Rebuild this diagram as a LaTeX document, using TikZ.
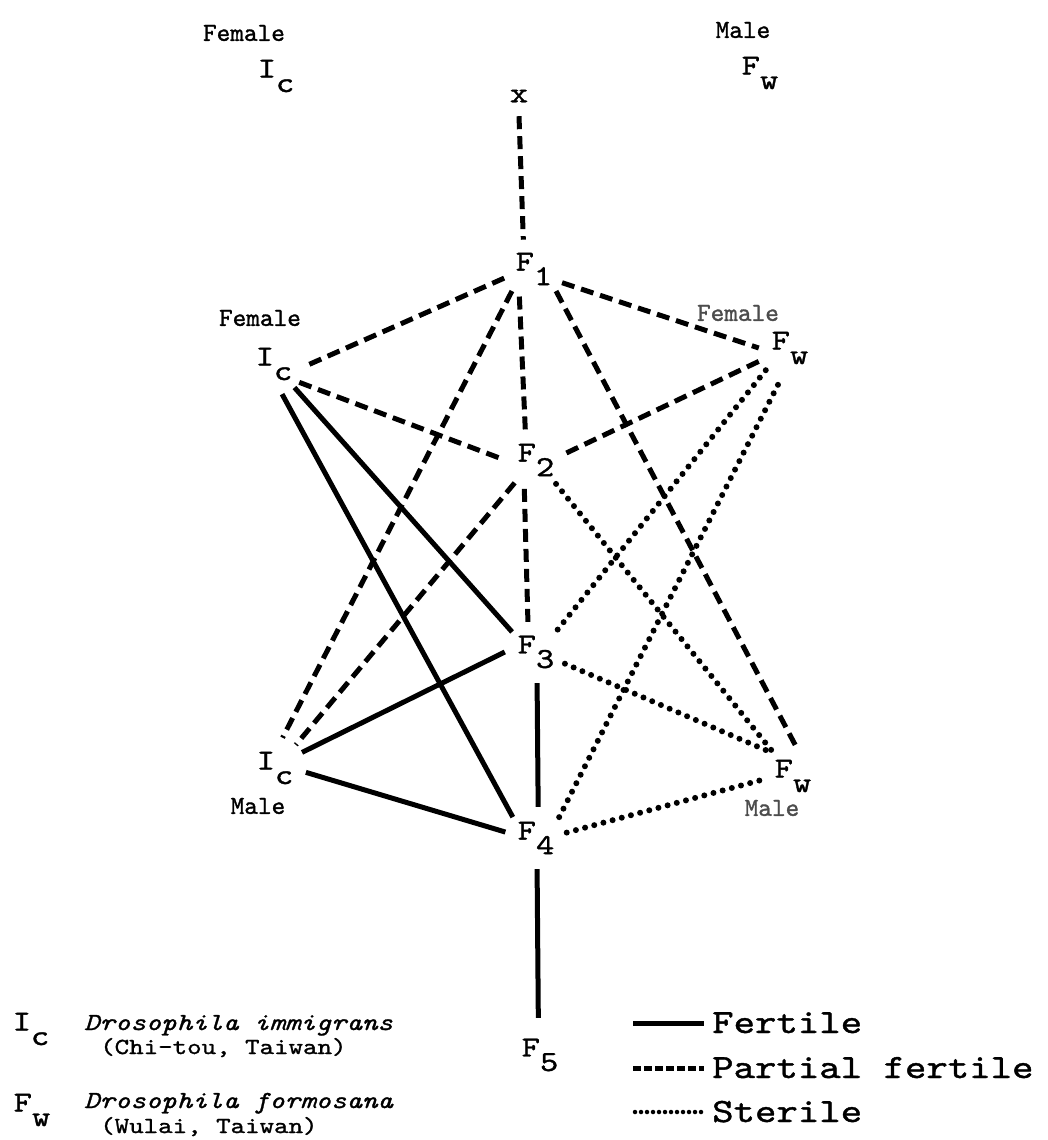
\documentclass[tikz,border=0pt]{standalone}
\usepackage{fontspec}
\setmonofont{lmmono10-regular.otf}[ItalicFont=lmmono10-italic.otf, FakeStretch=1.2, FakeBold=1.2]
\newfontfamily\plainmono{lmmono10-regular.otf}[FakeBold=1.2]
\newcommand{\lowr}[1]{\raisebox{-0.5em}{#1}}
\begin{document}
\begin{tikzpicture}[x=1pt,y=-1pt,
  lbl/.style={font=\ttfamily\fontsize{29}{29}\selectfont, inner sep=0pt},
  gen/.style={lbl, circle, minimum size=62pt},
  sexlbl/.style={font=\plainmono\fontsize{26}{26}\selectfont, inner sep=0pt},
  faded/.style={text=black!70},
  spec/.style={font=\ttfamily\itshape\fontsize{24.5}{24.5}\selectfont, inner sep=0pt, anchor=base west},
  loc/.style={font=\ttfamily\fontsize{23}{23}\selectfont, inner sep=0pt, anchor=base west},
  key/.style={font=\ttfamily\fontsize{34}{34}\selectfont, inner sep=0pt, anchor=base west},
  fert/.style={line width=5pt},
  part/.style={line width=5pt, dash pattern=on 13pt off 7pt},
  ster/.style={line width=6pt, line cap=round, dash pattern=on 0pt off 9.5pt},
]
\useasboundingbox (0,0) rectangle (1047,1140);

% top labels
\node[sexlbl] (femt) at (244,33) {Female};
\node[lbl] (Ict) at (276,76) {I\lowr{c}};
\node[lbl, circle, minimum size=40pt] (x) at (519,96) {x};
\node[sexlbl] (malet) at (743,30) {Male};
\node[lbl] (Fwt) at (760,73) {F\lowr{w}};

% generations and parents
\node[gen] (F1) at (534,269) {F\lowr{1}};
\node[gen] (Icm) at (274,364) {I\lowr{c}};
\node[sexlbl] (femm) at (260,318) {Female};
\node[gen] (Fwu) at (790,348) {F\lowr{w}};
\node[sexlbl, faded] (femr) at (738,313) {Female};
\node[gen] (F2) at (536,460) {F\lowr{2}};
\node[gen] (F3) at (536,652) {F\lowr{3}};
\node[gen] (Icl) at (275,768) {I\lowr{c}};
\node[sexlbl] (malel) at (258,806) {Male};
\node[gen] (Fwl) at (793,776) {F\lowr{w}};
\node[sexlbl, faded] (maler) at (772,808) {Male};
\node[gen] (F4) at (536,838) {F\lowr{4}};
\node[gen] (F5) at (540,1055) {F\lowr{5}};

% partial fertile
\draw[part] (x.-90) -- (F1.110);
\draw[part] (F1.197) -- (Icm.-4);
\draw[part] (F1.-26) -- (Fwu.180);
\draw[part] (F1.-118) -- (F2.110);
\draw[part] (F1.-135) -- (Icl.76);
\draw[part] (F1.-45) -- (Fwl.86);
\draw[part] (Icm.-36) -- (F2.180);
\draw[part] (F2.13) -- (Fwu.203);
\draw[part] (F2.-133) -- (Icl.48);
\draw[part] (F2.-112) -- (F3.105);
% fertile
\draw[fert] (Icm.-49) -- (F3.140);
\draw[fert] (Icm.-75) -- (F4.138);
\draw[fert] (Icl.30) -- (F3.180);
\draw[fert] (Icl.-8) -- (F4.169);
\draw[fert] (F3.-88) -- (F4.86);
\draw[fert, shorten >=6pt] (F4.-88) -- (F5.93);
% sterile
\draw[ster] (F2.-50) -- (Fwl.130);
\draw[ster] (F3.46) -- (Fwu.-138);
\draw[ster] (F3.-22) -- (Fwl.132);
\draw[ster] (F4.42) -- (Fwu.-106);
\draw[ster] (F4.10) -- (Fwl.-173);

% legend left
\node[lbl] (Ick) at (31,1029) {I\lowr{c}};
\node[spec] (dimm) at (84,1030) {Drosophila immigrans};
\node[loc] (chi) at (100,1054) {(Chi-tou, Taiwan)};
\node[lbl] (Fwk) at (32,1110) {F\lowr{w}};
\node[spec] (dfor) at (84,1108) {Drosophila formosana};
\node[loc] (wul) at (100,1133) {(Wulai, Taiwan)};

% legend right
\coordinate (k1a) at (633,1023); \coordinate (k1b) at (704,1023);
\coordinate (k2a) at (633,1068); \coordinate (k2b) at (704,1068);
\coordinate (k3a) at (635,1112); \coordinate (k3b) at (703,1112);
\draw[fert] (k1a) -- (k1b);
\draw[part, dash pattern=on 8pt off 3pt] (k2a) -- (k2b);
\draw[ster, line width=4.5pt, dash pattern=on 0pt off 6pt] (k3a) -- (k3b);
\node[key] (kf) at (712,1033) {Fertile};
\node[key] (kp) at (712,1078) {Partial fertile};
\node[key] (ks) at (712,1122) {Sterile};
\end{tikzpicture}
\end{document}
